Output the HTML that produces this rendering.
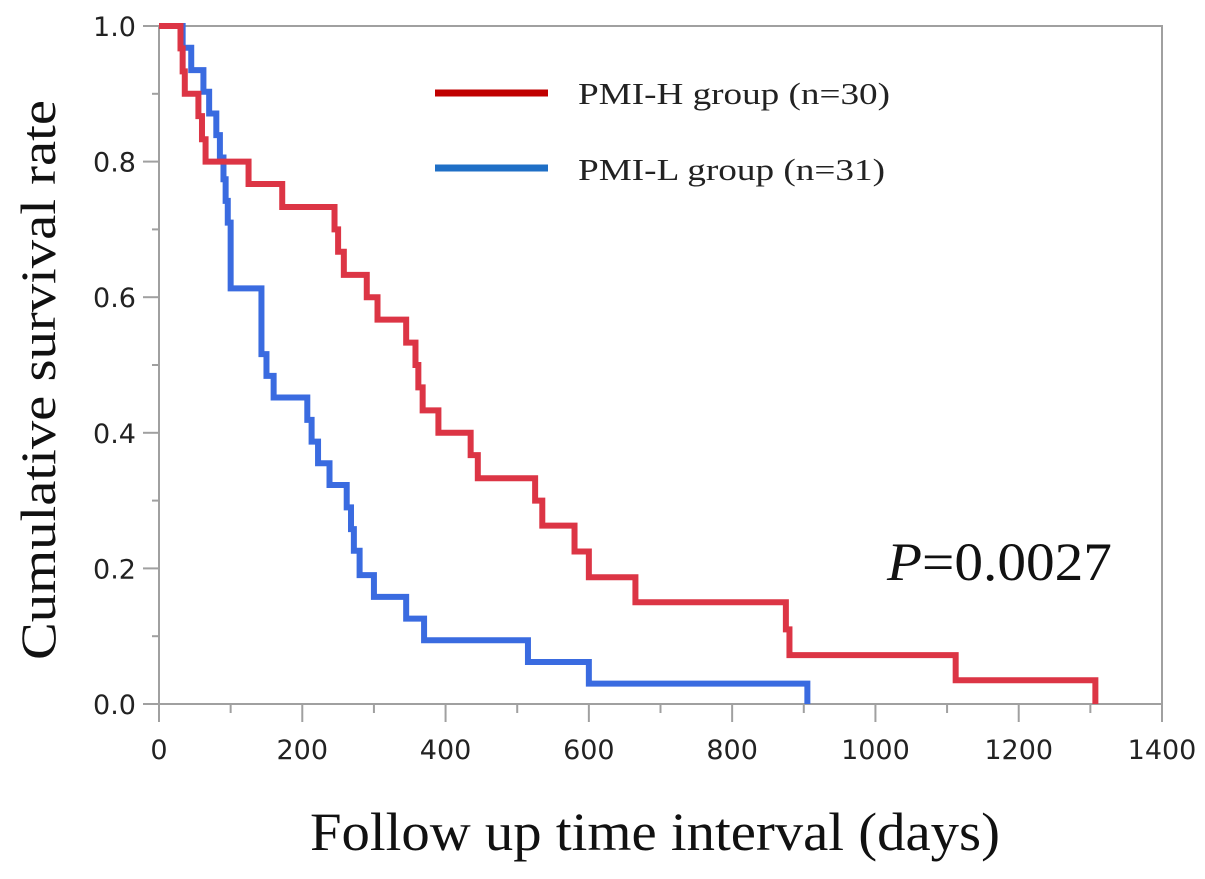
<!DOCTYPE html>
<html><head><meta charset="utf-8"><style>
html,body{margin:0;padding:0;background:#fff;}
svg{display:block;}
</style></head><body>
<svg id="chart" width="1205" height="879" xmlns="http://www.w3.org/2000/svg">
<g id="axes"></g>
<g id="series"></g>
<g>
<line x1="435" y1="93" x2="548" y2="93" stroke="#c00000" stroke-width="7"/>
<text x="578" y="104" font-family="Liberation Serif, serif" font-size="31" textLength="312" lengthAdjust="spacingAndGlyphs" fill="#222">PMI-H group (n=30)</text>
<line x1="435" y1="168" x2="548" y2="168" stroke="#1f6fc6" stroke-width="7"/>
<text x="578" y="180" font-family="Liberation Serif, serif" font-size="31" textLength="307" lengthAdjust="spacingAndGlyphs" fill="#222">PMI-L group (n=31)</text>
</g>
<text x="887" y="580" font-family="Liberation Serif, serif" font-size="54" textLength="225" lengthAdjust="spacingAndGlyphs" fill="#111"><tspan font-style="italic">P</tspan>=0.0027</text>
<text transform="translate(55,380) rotate(-90)" text-anchor="middle" font-family="Liberation Serif, serif" font-size="50" textLength="560" lengthAdjust="spacingAndGlyphs" fill="#111">Cumulative survival rate</text>
<text x="655" y="850" text-anchor="middle" font-family="Liberation Serif, serif" font-size="54" textLength="690" lengthAdjust="spacingAndGlyphs" fill="#111">Follow up time interval (days)</text>
</svg>
<script>
const xTicks = [0,200,400,600,800,1000,1200,1400];
const yTicks = [0.0,0.2,0.4,0.6,0.8,1.0];
const yTickLabels = ["0.0","0.2","0.4","0.6","0.8","1.0"];
const hTimes = [0,30,33,36,55,60,65,125,172,245,250,258,290,305,345,358,362,368,390,435,445,525,535,580,600,665,875,880,1112,1307];
const hValues = [1,0.967,0.933,0.9,0.867,0.833,0.8,0.767,0.733,0.7,0.667,0.633,0.6,0.567,0.533,0.5,0.467,0.433,0.4,0.367,0.333,0.3,0.263,0.225,0.187,0.15,0.11,0.072,0.035,0];
const lTimes = [0,33,45,62,70,80,85,90,93,96,100,143,150,160,207,213,222,238,262,268,272,280,300,345,370,515,600,905];
const lValues = [1,0.968,0.935,0.903,0.871,0.839,0.806,0.774,0.742,0.71,0.613,0.516,0.484,0.452,0.419,0.387,0.355,0.323,0.29,0.258,0.226,0.19,0.158,0.126,0.094,0.062,0.03,0];

const X0=159, X1=1162, Y0=704, Y1=26;
const xs = t => X0 + (t/1400)*(X1-X0);
const ys = v => Y0 - v*(Y0-Y1);
const NS="http://www.w3.org/2000/svg";
function mk(tag, attrs, parent){const e=document.createElementNS(NS,tag);for(const k in attrs)e.setAttribute(k,attrs[k]);parent.appendChild(e);return e;}
const axes=document.getElementById('axes');
const frame=mk('rect',{x:X0,y:Y1,width:X1-X0,height:Y0-Y1,fill:'none',stroke:'#a0a0a0','stroke-width':2},axes);


const xl=mk('line',{x1:X0-16,x2:X1,y1:Y0,y2:Y0,stroke:'#a0a0a0','stroke-width':2},axes);


for(let t=0;t<=1400;t+=100){
  const major = t%200===0;
  const tk=mk('line',{x1:xs(t),x2:xs(t),y1:Y0,y2:Y0+(major?18:9),stroke:'#a0a0a0','stroke-width':2},axes);
  
  
}
xTicks.forEach(t=>{
  const tx=mk('text',{x:xs(t),y:759,'text-anchor':'middle','font-family':'DejaVu Sans, sans-serif','font-size':27,fill:'#222'},axes);
  tx.textContent=String(t);
  
  
});
for(let i=0;i<=10;i++){
  const v=i/10, major=i%2===0;
  const tk=mk('line',{x1:X0-(major?16:7),x2:X0,y1:ys(v),y2:ys(v),stroke:'#a0a0a0','stroke-width':2},axes);
  
  
}
yTicks.forEach((v,i)=>{
  const tx=mk('text',{x:136,y:ys(v)+10,'text-anchor':'end','font-family':'DejaVu Sans, sans-serif','font-size':27,fill:'#222'},axes);
  tx.textContent=yTickLabels[i];
  
  
});
function stepPath(times, vals){
  let d='M'+xs(times[0])+','+ys(vals[0]);
  for(let i=1;i<times.length;i++){d+=' H'+xs(times[i])+' V'+ys(vals[i]);}
  return d;
}
const series=document.getElementById('series');
const pl=mk('path',{d:stepPath(lTimes,lValues),fill:'none',stroke:'#3a6be0','stroke-width':6,'stroke-linejoin':'miter'},series);


const ph=mk('path',{d:stepPath(hTimes,hValues),fill:'none',stroke:'#dc3545','stroke-width':6,'stroke-linejoin':'miter'},series);


</script>
</body></html>
